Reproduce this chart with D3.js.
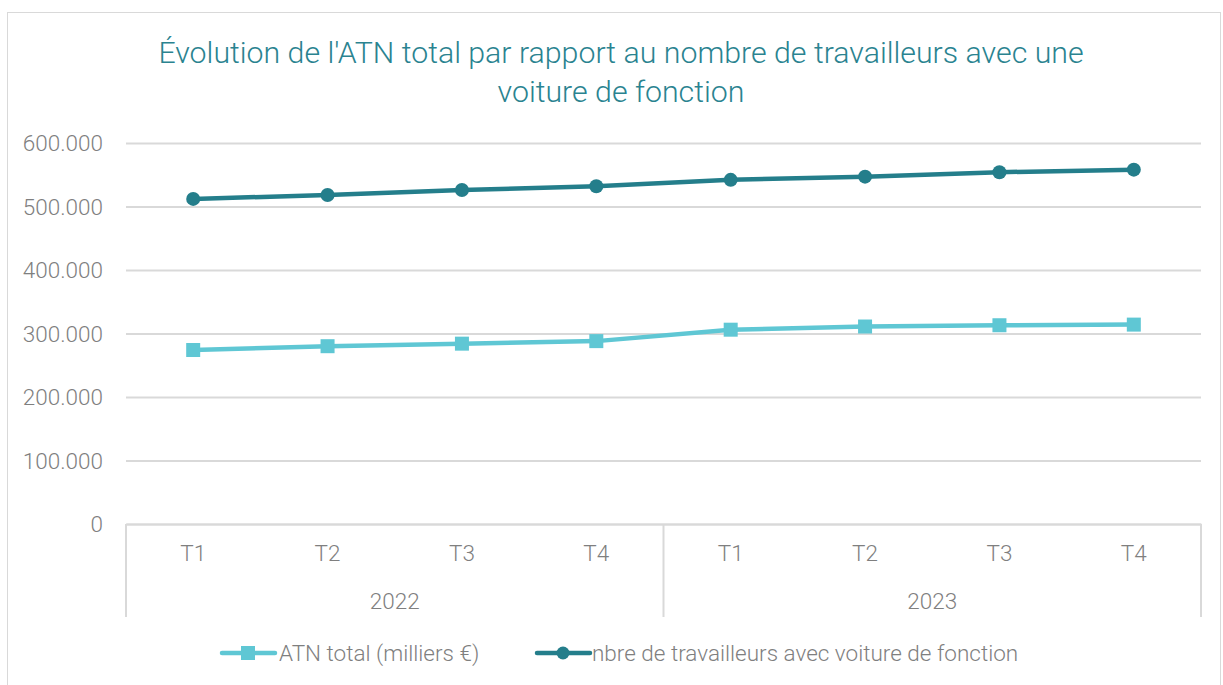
<!DOCTYPE html>
<html><head><meta charset="utf-8">
<script src="https://cdn.jsdelivr.net/npm/d3@7"></script>
<style>
body{margin:0;background:#fff;}
text{font-family:"Roboto","Open Sans",sans-serif;font-weight:300;}
</style></head>
<body><svg id="c" width="1223" height="685"></svg>
<script>
const years = ["2022","2023"];
const quarters = ["T1","T2","T3","T4"];
const categories = ["2022-T1","2022-T2","2022-T3","2022-T4","2023-T1","2023-T2","2023-T3","2023-T4"];
const atnTotal = [274000,280000,284000,288000,306000,311000,313000,314000];
const travailleurs = [512000,518000,526000,532000,542000,547000,554000,558000];
const yTicks = [0,100000,200000,300000,400000,500000,600000];
const seriesNames = ["ATN total (milliers €)","nbre de travailleurs avec voiture de fonction"];
const titleLines = ["Évolution de l'ATN total par rapport au nombre de travailleurs avec une","voiture de fonction"];

const colLight="#5fc7d4", colDark="#247e8b", grid="#d9d9d9", txt="#7f7f7f";
const svg=d3.select("#c");
svg.append("rect").attr("x",7.5).attr("y",12.5).attr("width",1213).attr("height",680).attr("fill","#fff").attr("stroke","#d9d9d9");

const L=126,R=1201,T=143,B=524;
const x=d3.scaleBand().domain(categories).range([L,R]);
const y=d3.scaleLinear().domain([0,600000]).range([B,T]);
const fmt=v=>v===0?"0":d3.format(",")(v).replace(/,/g,".");
const FF="Roboto, 'Open Sans', sans-serif";
const FS=22.5;

// title
svg.append("text").attr("x",621).attr("y",63).attr("text-anchor","middle").attr("fill","#2a8390").attr("font-size",30.3).text(titleLines[0]);
svg.append("text").attr("x",621).attr("y",102).attr("text-anchor","middle").attr("fill","#2a8390").attr("font-size",30.3).text(titleLines[1]);

// grid + y labels
const ya=svg.append("g").attr("transform",`translate(${L},0)`).call(d3.axisLeft(y).tickValues(yTicks).tickSize(-(R-L)).tickFormat(fmt).tickPadding(23));
ya.select(".domain").remove();
ya.selectAll(".tick line").attr("stroke",grid).attr("stroke-width",2);
ya.selectAll(".tick text").attr("fill",txt).attr("font-size",FS).attr("font-family",FF).attr("dy","0.35em");

// category axis
const xa=svg.append("g").attr("transform",`translate(0,${B})`).call(d3.axisBottom(x).tickSize(0).tickPadding(21).tickFormat(d=>d.split("-")[1]));
xa.select(".domain").attr("stroke",grid).attr("stroke-width",2);
xa.selectAll(".tick text").attr("fill",txt).attr("font-size",FS).attr("font-family",FF);
// group separators
const sepX=[L, x(categories[4]), R];
svg.selectAll(".sep").data(sepX).enter().append("line").attr("x1",d=>d).attr("x2",d=>d).attr("y1",B).attr("y2",617).attr("stroke",grid).attr("stroke-width",2);
years.forEach((yr,i)=>{
  const x0=x(categories[i*4]), x1=x(categories[i*4+3])+x.bandwidth();
  svg.append("text").attr("x",(x0+x1)/2).attr("y",609).attr("text-anchor","middle").attr("fill",txt).attr("font-size",FS).text(yr);
});

const line=d3.line().x((d,i)=>x(categories[i])+x.bandwidth()/2).y(d=>y(d));
svg.append("path").datum(atnTotal).attr("d",line).attr("fill","none").attr("stroke",colLight).attr("stroke-width",4.5).attr("stroke-linejoin","round");
svg.append("path").datum(travailleurs).attr("d",line).attr("fill","none").attr("stroke",colDark).attr("stroke-width",4.5).attr("stroke-linejoin","round");
svg.selectAll(".sq").data(atnTotal).enter().append("rect")
  .attr("x",(d,i)=>x(categories[i])+x.bandwidth()/2-7).attr("y",d=>y(d)-7).attr("width",14).attr("height",14).attr("fill",colLight);
svg.selectAll(".ci").data(travailleurs).enter().append("circle")
  .attr("cx",(d,i)=>x(categories[i])+x.bandwidth()/2).attr("cy",d=>y(d)).attr("r",7).attr("fill",colDark);

// legend
const lg=svg.append("g");
lg.append("line").attr("x1",222).attr("x2",275).attr("y1",653).attr("y2",653).attr("stroke",colLight).attr("stroke-width",4.5).attr("stroke-linecap","round");
lg.append("rect").attr("x",241).attr("y",646).attr("width",14).attr("height",14).attr("fill",colLight);
lg.append("text").attr("x",279).attr("y",661).attr("fill",txt).attr("font-size",FS).text(seriesNames[0]);
lg.append("line").attr("x1",537).attr("x2",590).attr("y1",653).attr("y2",653).attr("stroke",colDark).attr("stroke-width",4.5).attr("stroke-linecap","round");
lg.append("circle").attr("cx",563).attr("cy",653).attr("r",6.5).attr("fill",colDark);
lg.append("text").attr("x",592).attr("y",661).attr("fill",txt).attr("font-size",FS).text(seriesNames[1]);
</script></body></html>
